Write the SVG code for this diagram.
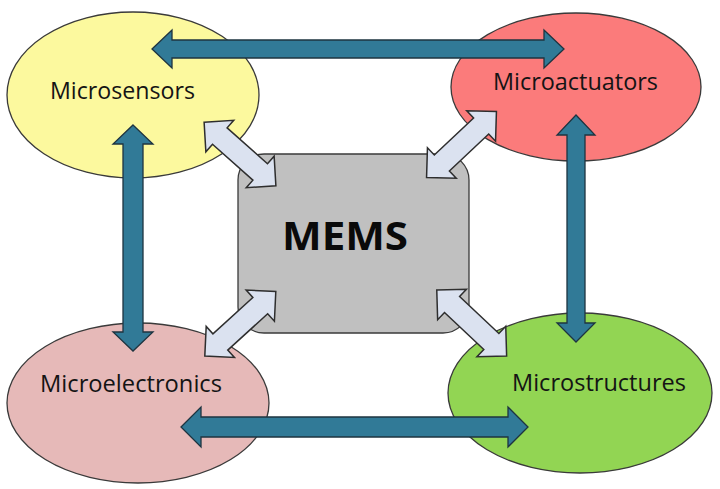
<svg xmlns="http://www.w3.org/2000/svg" width="720" height="489" viewBox="0 0 720 489">
<style>
.node{stroke:#3a3a3a;stroke-width:1.3}
.lbl{font-family:"Open Sans","Liberation Sans",sans-serif;font-size:24px;fill:#141414;text-anchor:middle}
.big{stroke:#1e3440;stroke-width:1.3;fill:#317a97}
.diag{stroke:#2e2e2e;stroke-width:1.5;fill:#dbe2f0}
</style>
<defs>
<path id="dArrow" d="M-48 0 L-27 -21 L-27 -11 L27 -11 L27 -21 L48 0 L27 21 L27 11 L-27 11 L-27 21 Z"/>
</defs>
<rect width="720" height="489" fill="#ffffff"/>
<g id="microsensors">
<ellipse class="node" cx="133" cy="95" rx="126" ry="83" fill="#fcf99e"/>
<text class="lbl" x="122.5" y="99" textLength="145" lengthAdjust="spacingAndGlyphs">Microsensors</text>
</g>
<g id="microactuators">
<ellipse class="node" cx="576" cy="87" rx="125" ry="74" fill="#fb7b7b"/>
<text class="lbl" x="575.5" y="90" textLength="165" lengthAdjust="spacingAndGlyphs">Microactuators</text>
</g>
<g id="microelectronics">
<ellipse class="node" cx="138" cy="403" rx="131" ry="80" fill="#e6b9b8"/>
<text class="lbl" x="131" y="392" textLength="182" lengthAdjust="spacingAndGlyphs">Microelectronics</text>
</g>
<g id="microstructures">
<ellipse class="node" cx="580" cy="393" rx="132" ry="80" fill="#92d553"/>
<text class="lbl" x="599" y="391" textLength="174" lengthAdjust="spacingAndGlyphs">Microstructures</text>
</g>
<g id="mems">
<rect x="238" y="154" width="231" height="179" rx="26" ry="26" fill="#c0c0c0" stroke="#3a3a3a" stroke-width="1.3"/>
<text x="345" y="250" font-family="'Open Sans','Liberation Sans',sans-serif" font-size="40" font-weight="bold" fill="#0a0a0a" text-anchor="middle" textLength="126" lengthAdjust="spacingAndGlyphs">MEMS</text>
</g>
<g id="connectors">
<path class="big" d="M152 49 L172 30 L172 40 L544 40 L544 30 L564 49 L544 68 L544 58 L172 58 L172 68 Z"/>
<path class="big" d="M181 427 L201 407 L201 417 L508 417 L508 407 L528 427 L508 447 L508 437 L201 437 L201 447 Z"/>
<path class="big" d="M133 125 L153 144 L143 144 L143 332 L153 332 L133 351 L113 332 L123 332 L123 144 L113 144 Z"/>
<path class="big" d="M576 115 L595 135 L585 135 L585 323 L595 323 L576 342 L557 323 L567 323 L567 135 L557 135 Z"/>
<use href="#dArrow" class="diag" transform="translate(240 154) rotate(41.6)"/>
<use href="#dArrow" class="diag" transform="translate(461.5 144.5) rotate(136.7)"/>
<use href="#dArrow" class="diag" transform="translate(240.3 323.8) rotate(137.7)"/>
<use href="#dArrow" class="diag" transform="translate(471.7 323) rotate(43.3)"/>
</g>
</svg>
